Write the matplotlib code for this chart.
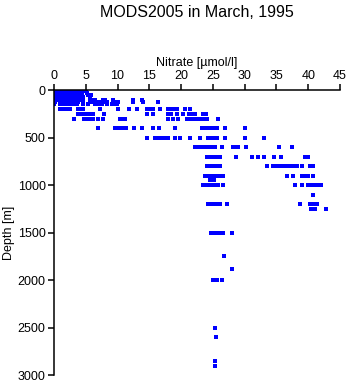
import matplotlib
matplotlib.use("Agg")
import matplotlib.pyplot as plt

plt.rcParams['font.family'] = ['Liberation Sans', 'DejaVu Sans']

# Sample depths [m] and the nitrate readings [umol/l] taken at each one
levels = [0, 10, 20, 30, 50, 75, 100, 125, 150, 200, 250, 300, 400, 500,
          600, 700, 800, 900, 950, 1000, 1100, 1200, 1250, 1500, 1750,
          1880, 2000, 2500, 2600, 2850, 2900]

nitrate_by_level = [
    [0.0, 0.2, 0.5, 0.8, 1.0, 1.3, 1.5, 1.7, 2.0, 2.2, 2.4, 2.7, 2.9, 3.1, 3.4, 3.6, 3.9, 4.9, 5.1],
    [0.1, 0.4, 0.7, 1.0, 1.2, 1.5, 1.8, 2.0, 2.3, 2.5, 2.8, 3.0, 3.3, 3.5, 3.8, 4.0, 4.6, 5.0],
    [0.0, 0.3, 0.8, 1.1, 1.4, 1.6, 1.9, 2.1, 2.4, 2.6, 2.9, 3.2, 3.4, 3.7, 4.0, 4.2],
    [0.0, 0.5, 0.9, 1.2, 1.5, 1.8, 2.0, 2.3, 2.7, 2.9, 3.2, 3.5, 3.7, 4.0, 4.4, 5.2],
    [0.0, 0.2, 0.7, 1.0, 1.3, 1.6, 1.9, 2.2, 2.5, 2.8, 3.0, 3.3, 3.7, 4.1, 5.4, 5.8],
    [0.0, 0.4, 0.9, 1.2, 1.5, 1.7, 2.1, 2.3, 2.7, 3.0, 3.3, 3.6, 3.9, 4.1, 4.5, 5.7],
    [0.0, 0.6, 1.0, 1.4, 1.8, 2.2, 2.6, 3.0, 3.4, 3.8, 4.2, 4.5, 5.7, 6.0, 6.4, 7.7, 8.1, 9.3, 12.4, 13.8],
    [0.2, 1.0, 1.6, 2.3, 3.0, 3.8, 4.6, 5.7, 6.1, 6.4, 6.9, 7.4, 7.9, 8.3, 9.9, 10.0, 12.4, 14.0, 16.4],
    [0.0, 1.0, 1.5, 2.0, 2.5, 3.0, 3.6, 4.6, 5.3, 6.4, 7.0, 7.6, 8.3, 9.1, 9.6, 9.9],
    [1.0, 1.4, 2.0, 2.5, 3.8, 4.2, 4.6, 7.2, 10.0, 11.8, 13.0, 14.6, 15.1, 15.6, 16.7, 18.0, 18.4, 18.7, 19.4, 20.6, 21.4],
    [3.8, 4.3, 4.9, 5.3, 5.8, 6.1, 7.8, 14.6, 15.6, 18.0, 18.4, 19.4, 20.3, 21.2, 21.6, 22.2, 23.4, 23.9],
    [3.1, 4.7, 5.2, 5.8, 6.1, 6.9, 7.7, 10.4, 10.9, 11.2, 18.0, 18.7, 19.5, 20.9, 21.4, 21.8, 22.2, 22.6, 23.0, 23.3, 23.8, 24.1, 25.8],
    [6.9, 9.6, 10.0, 10.5, 11.0, 11.4, 12.6, 13.8, 15.6, 16.5, 19.0, 23.3, 23.8, 24.3, 24.8, 25.2, 25.6, 26.9, 30.0],
    [14.7, 15.9, 16.4, 17.0, 17.5, 18.0, 19.0, 19.8, 21.4, 23.0, 24.2, 24.6, 25.0, 25.6, 26.9, 30.0, 33.0],
    [22.2, 22.6, 23.0, 23.4, 24.1, 24.5, 24.9, 25.3, 26.5, 28.2, 28.6, 29.0, 30.2, 35.4, 37.4],
    [24.0, 24.4, 24.8, 25.2, 25.6, 26.1, 28.6, 31.1, 32.1, 33.0, 34.6, 35.7, 39.5, 40.0],
    [24.0, 24.4, 24.8, 25.2, 25.6, 26.1, 33.5, 34.5, 35.0, 35.6, 36.0, 36.6, 37.0, 37.4, 37.8, 38.2, 39.0, 40.3, 40.7],
    [23.8, 24.2, 24.6, 25.0, 25.4, 25.8, 26.2, 26.6, 36.6, 37.6, 39.0, 39.4, 39.7, 40.0, 40.7],
    [24.5, 25.2],
    [23.4, 23.9, 24.4, 25.0, 25.4, 25.8, 26.6, 37.9, 39.0, 40.0, 40.4, 40.8, 41.1, 41.4, 42.0],
    [40.8],
    [24.2, 24.6, 25.0, 25.4, 25.8, 26.1, 27.2, 38.7, 40.3, 40.6, 41.0, 41.4],
    [40.4, 40.8, 41.0, 42.8],
    [24.7, 25.1, 25.5, 25.9, 26.3, 26.6, 28.0],
    [26.8],
    [28.0],
    [25.0, 25.3, 25.6, 26.5],
    [25.3],
    [25.5],
    [25.4],
    [25.4],
]

x_ticks = [0, 5, 10, 15, 20, 25, 30, 35, 40, 45]
y_ticks = [0, 500, 1000, 1500, 2000, 2500, 3000]

depth = []
nitrate = []
for lev, vals in zip(levels, nitrate_by_level):
    depth += [lev] * len(vals)
    nitrate += vals

fig = plt.figure(figsize=(3.48, 3.84), dpi=100)
ax = fig.add_axes([0.155, 0.0234, 0.822, 0.742])

ax.plot(nitrate, depth, 's', color='#0000ff', markersize=2.2,
        markeredgewidth=0, linestyle='none', antialiased=False)

ax.set_xlim(0, 45)
ax.set_ylim(3000, 0)
ax.set_xticks(x_ticks)
ax.set_yticks(y_ticks)

# axis drawn along the top, depth increasing downward
ax.xaxis.tick_top()
ax.xaxis.set_label_position('top')
ax.spines['bottom'].set_visible(False)
ax.spines['right'].set_visible(False)
for side in ('top', 'left'):
    ax.spines[side].set_linewidth(1.1)
ax.tick_params(axis='both', direction='out', length=4, width=1.1,
               labelsize=9, pad=2)

ax.set_xlabel('Nitrate [µmol/l]', fontsize=9, labelpad=3)
ax.set_ylabel('Depth [m]', fontsize=9, labelpad=2)
fig.text(0.566, 0.968, 'MODS2005 in March, 1995', ha='center', va='center',
         fontsize=11.5)

fig.savefig('out.png', dpi=100)
